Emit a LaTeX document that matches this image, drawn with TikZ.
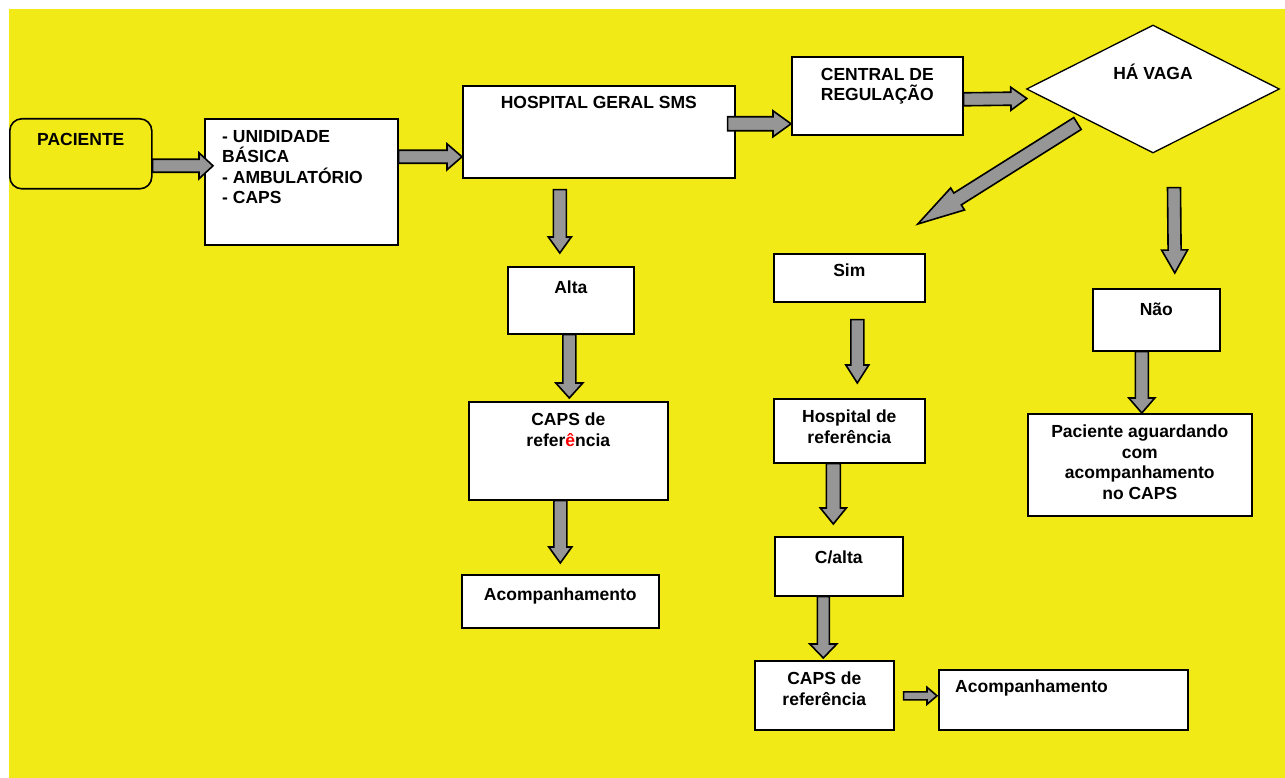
\documentclass[tikz,border=0pt]{standalone}
\usepackage{fontspec}
\setmainfont{Liberation Sans}
\usetikzlibrary{calc,shapes.geometric}
\definecolor{bgyellow}{RGB}{242,234,22}
\definecolor{arrgray}{RGB}{150,150,150}
\newcommand{\lblfont}{\fontsize{17.5}{20.5}\selectfont\bfseries}
% block arrow: start, end, half shaft, half head, head length
\newcommand{\flowarr}[5]{%
  \coordinate (fs) at (#1);
  \coordinate (fe) at (#2);
  \coordinate (fb) at ($(fe)!#5pt!(fs)$);
  \draw[arrowbody] ($(fs)!#3pt!90:(fe)$) -- ($(fb)!#3pt!90:(fe)$) -- ($(fb)!#4pt!90:(fe)$) -- (fe)
    -- ($(fb)!#4pt!-90:(fe)$) -- ($(fb)!#3pt!-90:(fe)$) -- ($(fs)!#3pt!-90:(fe)$) -- cycle;
}
\begin{document}
\begin{tikzpicture}[x=1pt,y=-1pt,
  box/.style={draw,line width=1.6pt,fill=white,anchor=north west,inner sep=0pt},
  lbl/.style={font=\lblfont,align=center,inner sep=0pt,anchor=north},
  arrowbody/.style={draw,fill=arrgray,line width=1.6pt,line join=miter}]
\useasboundingbox (0,0) rectangle (1285,778);
\fill[bgyellow] (9,9) rectangle (1285,778);

% top row
\node[box,fill=bgyellow,rounded corners=12pt,minimum width=142,minimum height=70,
  label={[lbl,yshift=-15pt]north:PACIENTE}] (pac) at (9,118) {};
\node[box,minimum width=193,minimum height=126,
  label={[lbl,align=left,anchor=north west,xshift=18pt,yshift=-12pt]north west:{- UNIDIDADE\\BÁSICA\\- AMBULATÓRIO\\- CAPS}}] (unid) at (204,118) {};
\node[box,minimum width=272,minimum height=92,
  label={[lbl,yshift=-11pt]north:HOSPITAL GERAL SMS}] (hosp) at (462,85) {};
\node[box,minimum width=171,minimum height=78,
  label={[lbl,yshift=-12pt]north:{CENTRAL DE\\REGULAÇÃO}}] (cent) at (791,56) {};
\node[diamond,draw,line width=1.3pt,fill=white,inner sep=0pt,minimum width=253,minimum height=128,
  label={[lbl,yshift=-39.5pt]north:HÁ VAGA}] (vaga) at (1153,89) {};

% left column
\node[box,minimum width=126,minimum height=67,
  label={[lbl,yshift=-15pt]north:Alta}] (alta) at (507,266) {};
\node[box,minimum width=199,minimum height=98,
  label={[lbl,yshift=-12pt]north:{CAPS de\\refer{\color{red}ê}ncia}}] (caps1) at (468,401) {};
\node[box,minimum width=197,minimum height=53,
  label={[lbl,yshift=-14pt]north:Acompanhamento}] (acomp1) at (461,574) {};

% middle column
\node[box,minimum width=151,minimum height=48,
  label={[lbl,yshift=-11pt]north:Sim}] (sim) at (773,253) {};
\node[box,minimum width=151,minimum height=64,
  label={[lbl,yshift=-12pt]north:{Hospital de\\referência}}] (hospref) at (773,398) {};
\node[box,minimum width=128,minimum height=59,
  label={[lbl,yshift=-15pt]north:C/alta}] (calta) at (774,536) {};
\node[box,minimum width=139,minimum height=69,
  label={[lbl,yshift=-12pt]north:{CAPS de\\referência}}] (caps2) at (754,660) {};
\node[box,minimum width=249,minimum height=60,
  label={[lbl,anchor=north west,xshift=17pt,yshift=-11pt]north west:Acompanhamento}] (acomp2) at (938,669) {};

% right column
\node[box,minimum width=127,minimum height=62,
  label={[lbl,yshift=-15pt]north:Não}] (nao) at (1092,288) {};
\node[box,minimum width=224,minimum height=102,
  label={[lbl,yshift=-12pt]north:{Paciente aguardando\\com\\acompanhamento\\no CAPS}}] (aguard) at (1027,413) {};

% arrows
\flowarr{$(pac.east)+(0,12)$}{$(unid.west)+(9,-16)$}{6.5}{13}{14}
\flowarr{$(unid.east)+(0,-25)$}{$(hosp.west)+(0,25)$}{6.5}{13}{15}
\flowarr{$(hosp.east)+(-8,-8)$}{$(cent.west)+(0,28)$}{7}{13}{18}
\flowarr{$(cent.east)+(0,3.5)$}{$(vaga.west)+(1,9.5)$}{6.5}{11.5}{16}
\flowarr{$(vaga.center)+(-75.5,34.5)$}{$(sim.north)+(68.5,-29)$}{7}{13}{47}
\flowarr{$(vaga.south)+(21,34)$}{$(nao.north)+(18.5,-15)$}{6.5}{13}{23}
\flowarr{$(hosp.south)+(-39,11)$}{$(alta.north)+(-11,-13)$}{6.5}{11.5}{16}
\flowarr{$(alta.south)+(-1.5,0)$}{$(caps1.north)+(1,-3)$}{6.5}{13.5}{15}
\flowarr{$(caps1.south)+(-8,0)$}{$(acomp1.north)+(0,-11)$}{6.5}{11.5}{16}
\flowarr{$(sim.south)+(8,17)$}{$(hospref.north)+(8,-15)$}{6.5}{11.5}{18}
\flowarr{$(hospref.south)+(-16,0)$}{$(calta.north)+(-5.5,-12)$}{7}{13}{16}
\flowarr{$(calta.south)+(-15.5,0)$}{$(caps2.north)+(-1,-2)$}{6}{13.5}{14}
\flowarr{$(caps2.east)+(9,0.5)$}{$(acomp2.west)+(-1,-4)$}{4}{8.5}{10}
\flowarr{$(nao.south)+(-14.5,0)$}{$(aguard.north)+(2,0)$}{6.5}{13}{15}

\end{tikzpicture}
\end{document}
